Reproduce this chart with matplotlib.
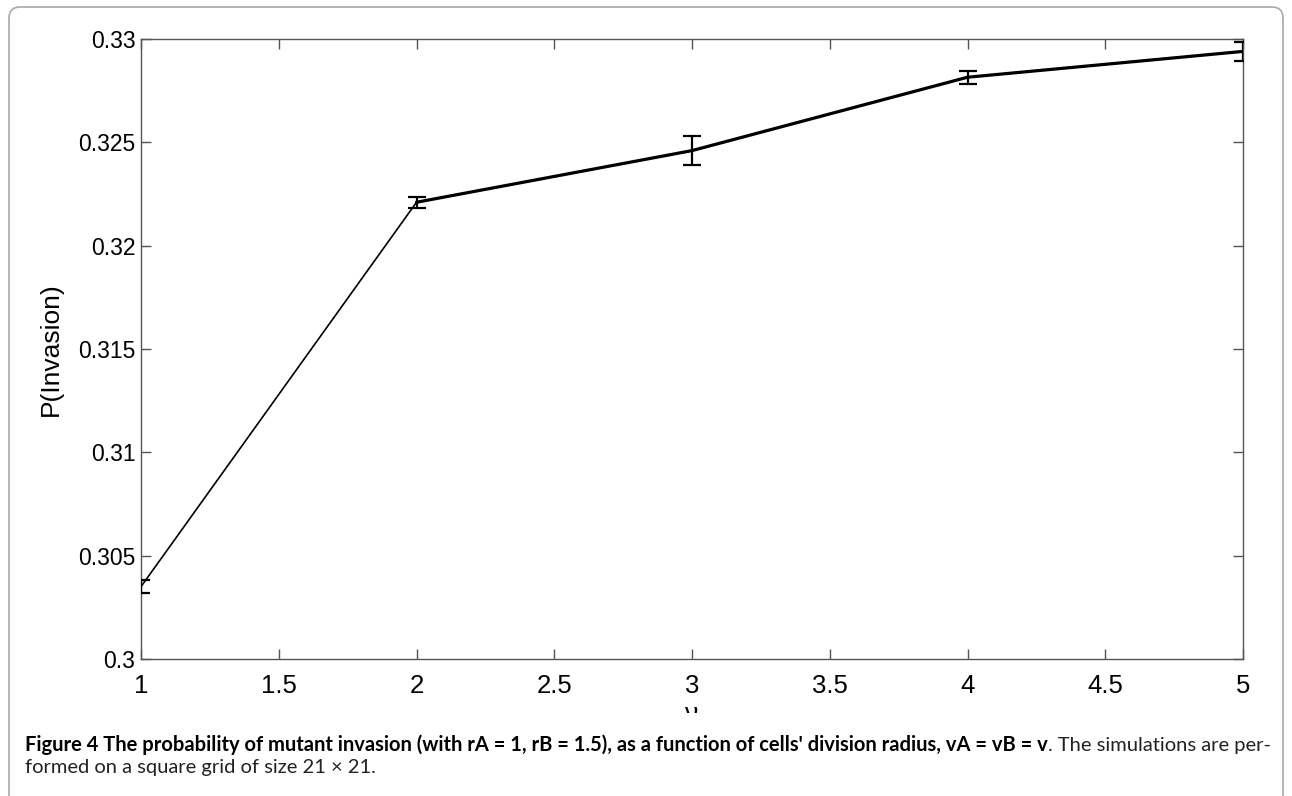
import matplotlib
matplotlib.use("Agg")
import matplotlib.pyplot as plt
from matplotlib.patches import FancyBboxPatch, Rectangle
from matplotlib.transforms import IdentityTransform

# ---- data ----
nu = [1, 2, 3, 4, 5]
p_invasion = [0.3035, 0.3221, 0.3246, 0.32815, 0.3294]
p_err = [0.0003, 0.00027, 0.0007, 0.00032, 0.00046]
xticks = [1, 1.5, 2, 2.5, 3, 3.5, 4, 4.5, 5]
xtick_labels = ["1", "1.5", "2", "2.5", "3", "3.5", "4", "4.5", "5"]
yticks = [0.3, 0.305, 0.31, 0.315, 0.32, 0.325, 0.33]
ytick_labels = ["0.3", "0.305", "0.31", "0.315", "0.32", "0.325", "0.33"]
ylabel = "P(Invasion)"
xlabel = "ν"
cap_bold = "Figure 4 The probability of mutant invasion (with rA = 1, rB = 1.5), as a function of cells' division radius, vA = vB = v"
cap_reg1 = ". The simulations are per-"
cap_reg2 = "formed on a square grid of size 21 \u00d7 21."

W, H, DPI = 1292, 796, 100
fig = plt.figure(figsize=(W / DPI, H / DPI), dpi=DPI)
fig.patch.set_facecolor("white")

L, R, T, B = 141, 1243, 39, 659
ax = fig.add_axes([L / W, (H - B) / H, (R - L) / W, (B - T) / H])
axc = "#555555"
for s in ax.spines.values():
    s.set_color(axc)
    s.set_linewidth(1.0)

ax.errorbar(nu, p_invasion, yerr=p_err, color="black", lw=1.2, elinewidth=1.6,
            capsize=6.5, capthick=1.6, zorder=3)
ax.plot(nu[1:], p_invasion[1:], color="black", lw=2.3, solid_capstyle="round",
        zorder=3)

ax.set_xlim(1, 5)
ax.set_ylim(0.3, 0.33)
ax.set_xticks(xticks)
ax.set_xticklabels(xtick_labels, fontsize=18.5, family="Liberation Sans")
ax.set_yticks(yticks)
ax.set_yticklabels(ytick_labels, fontsize=16.5, family="Liberation Sans")
ax.tick_params(direction="in", length=7.2, width=1.0, color=axc,
               top=True, right=True, labelcolor="black")
ax.tick_params(axis="x", pad=11)
ax.tick_params(axis="y", pad=4)

fig.text(51 / W, (H - 349) / H, ylabel, rotation=90, ha="center", va="center",
         fontsize=19, family="Liberation Sans")

# x label, cut off at the bottom like the reference
fig.text(692 / W, (H - 721) / H, xlabel, ha="center", va="baseline",
         fontsize=19, family="Liberation Sans", zorder=3)
fig.patches.append(Rectangle((0, 0), 1, (H - 713) / H, transform=fig.transFigure,
                             facecolor="white", edgecolor="none", zorder=4))

# rounded frame
frame = FancyBboxPatch((9, -20), 1283 - 9, (H - 7) + 20,
                       boxstyle="round,pad=0,rounding_size=11",
                       transform=IdentityTransform(), facecolor="none",
                       edgecolor="#a8a8a8", lw=1.2, zorder=5)
fig.patches.append(frame)

# caption
fam = "Lato"
fig.canvas.draw()
r = fig.canvas.get_renderer()
s0 = 12
tb = fig.text(0, 0, cap_bold, fontsize=s0, weight="bold", family=fam)
tr = fig.text(0, 0, cap_reg1, fontsize=s0, family=fam)
wb = tb.get_window_extent(r).width
wr = tr.get_window_extent(r).width
tb.remove(); tr.remove()
target = 1268 - 25
s = s0 * target / (wb + wr)
x0 = 25
y1 = (H - 751) / H
y2 = (H - 773) / H
t1 = fig.text(x0 / W, y1, cap_bold, fontsize=s, weight="bold", family=fam,
              va="baseline", zorder=6)
fig.canvas.draw()
wb = t1.get_window_extent(fig.canvas.get_renderer()).width
fig.text((x0 + wb) / W, y1, cap_reg1, fontsize=s, family=fam, va="baseline",
         color="#222222", zorder=6)
fig.text(x0 / W, y2, cap_reg2, fontsize=s, family=fam, va="baseline",
         color="#222222", zorder=6)

fig.savefig("out.png", dpi=DPI, facecolor="white")
